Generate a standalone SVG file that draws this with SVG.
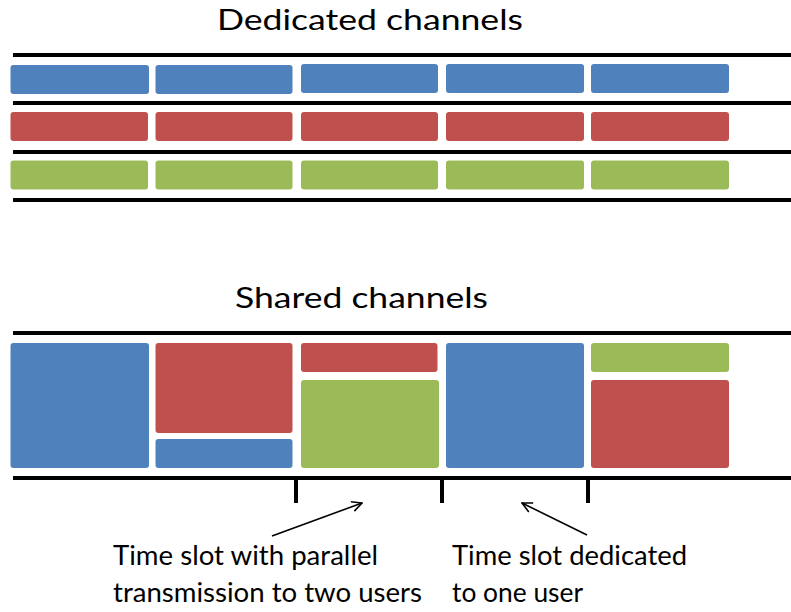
<svg xmlns="http://www.w3.org/2000/svg" width="791" height="612" viewBox="0 0 791 612">
  <style>
    .rail { stroke: #000; stroke-width: 4; fill: none; }
    .tick { stroke: #000; stroke-width: 4; fill: none; }
    .blue { fill: #4F81BD; }
    .red { fill: #C0504D; }
    .green { fill: #9BBB59; }
    .title { font-family: "Lato", "Open Sans", "Liberation Sans", sans-serif; font-size: 29px; fill: #000; }
    .note { font-family: "Lato", "Open Sans", "Liberation Sans", sans-serif; font-size: 26px; fill: #000; }
    .arrow { stroke: #000; stroke-width: 1.6; fill: none; }
  </style>
  <defs>
    <marker id="openHead" viewBox="0 0 12 12" refX="11" refY="6" markerWidth="12" markerHeight="12" markerUnits="userSpaceOnUse" orient="auto">
      <path d="M1,1 L11,6 L1,11" fill="none" stroke="#000" stroke-width="1.6"/>
    </marker>
  </defs>
  <rect width="791" height="612" fill="#fff"/>

  <!-- Dedicated channels -->
  <text class="title" x="217" y="30" textLength="306" lengthAdjust="spacingAndGlyphs">Dedicated channels</text>
  <g id="dedicated-rails">
    <line class="rail" x1="13" y1="55" x2="791" y2="55"/>
    <line class="rail" x1="13" y1="103" x2="791" y2="103"/>
    <line class="rail" x1="13" y1="152" x2="791" y2="152"/>
    <line class="rail" x1="13" y1="200" x2="791" y2="200"/>
  </g>
  <g id="dedicated-blue">
    <rect class="blue" x="10.5" y="65" width="138.5" height="29" rx="3"/>
    <rect class="blue" x="155.5" y="65" width="137" height="29" rx="3"/>
    <rect class="blue" x="301" y="64" width="137" height="29" rx="3"/>
    <rect class="blue" x="446" y="64" width="138" height="29" rx="3"/>
    <rect class="blue" x="591" y="64" width="138" height="29" rx="3"/>
  </g>
  <g id="dedicated-red">
    <rect class="red" x="10.5" y="112" width="137.5" height="29" rx="3"/>
    <rect class="red" x="155.5" y="112" width="137" height="29" rx="3"/>
    <rect class="red" x="301" y="112" width="137" height="29" rx="3"/>
    <rect class="red" x="446" y="112" width="138" height="29" rx="3"/>
    <rect class="red" x="591" y="112" width="138" height="29" rx="3"/>
  </g>
  <g id="dedicated-green">
    <rect class="green" x="10.5" y="160.5" width="137.5" height="29" rx="3"/>
    <rect class="green" x="155.5" y="160.5" width="137" height="29" rx="3"/>
    <rect class="green" x="301" y="160.5" width="137" height="29" rx="3"/>
    <rect class="green" x="446" y="160.5" width="138" height="29" rx="3"/>
    <rect class="green" x="591" y="160.5" width="138" height="29" rx="3"/>
  </g>

  <!-- Shared channels -->
  <text class="title" x="235" y="308" textLength="253" lengthAdjust="spacingAndGlyphs">Shared channels</text>
  <g id="shared-rails">
    <line class="rail" x1="13" y1="333" x2="791" y2="333"/>
    <line class="rail" x1="13" y1="478" x2="791" y2="478"/>
    <line class="tick" x1="296" y1="478" x2="296" y2="503"/>
    <line class="tick" x1="442" y1="478" x2="442" y2="503"/>
    <line class="tick" x1="588" y1="478" x2="588" y2="503"/>
  </g>
  <g id="slot-1">
    <rect class="blue" x="10.5" y="343" width="138.5" height="125" rx="3"/>
  </g>
  <g id="slot-2">
    <rect class="red" x="155.5" y="343" width="137" height="90" rx="3"/>
    <rect class="blue" x="155.5" y="439" width="137" height="29" rx="3"/>
  </g>
  <g id="slot-3">
    <rect class="red" x="301" y="343" width="136.5" height="29" rx="3"/>
    <rect class="green" x="301" y="380" width="138" height="88" rx="3"/>
  </g>
  <g id="slot-4">
    <rect class="blue" x="446" y="343" width="138" height="125" rx="3"/>
  </g>
  <g id="slot-5">
    <rect class="green" x="591" y="343" width="138" height="29" rx="3"/>
    <rect class="red" x="591" y="380" width="138" height="88" rx="3"/>
  </g>

  <!-- Callouts -->
  <g id="connectors">
    <line class="arrow" x1="272" y1="536" x2="362" y2="503" marker-end="url(#openHead)"/>
    <line class="arrow" x1="587" y1="535" x2="522" y2="503" marker-end="url(#openHead)"/>
  </g>
  <g id="note-parallel">
    <text class="note" x="113" y="565" textLength="265" lengthAdjust="spacingAndGlyphs">Time slot with parallel</text>
    <text class="note" x="113" y="602" textLength="309" lengthAdjust="spacingAndGlyphs">transmission to two users</text>
  </g>
  <g id="note-dedicated">
    <text class="note" x="452" y="565" textLength="235" lengthAdjust="spacingAndGlyphs">Time slot dedicated</text>
    <text class="note" x="452" y="602" textLength="131" lengthAdjust="spacingAndGlyphs">to one user</text>
  </g>
</svg>
